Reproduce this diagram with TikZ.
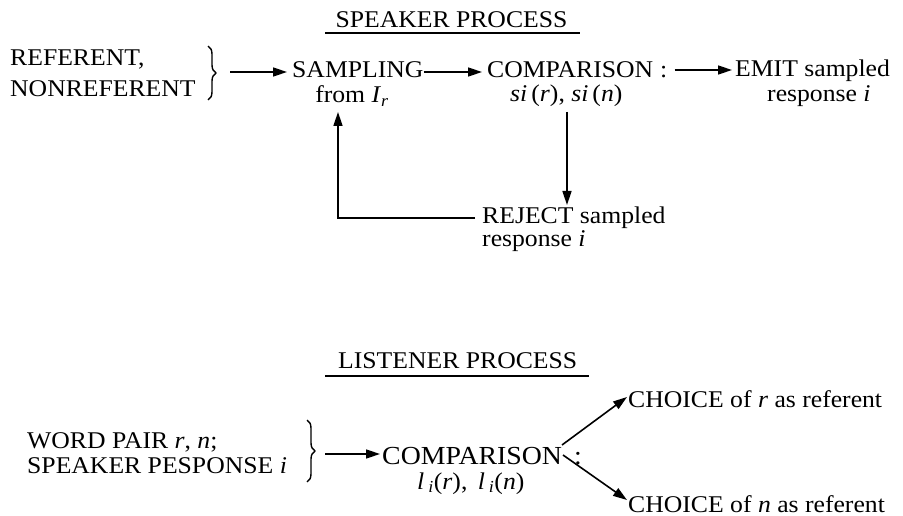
\documentclass[tikz,border=0pt]{standalone}
\usepackage{fontspec}
\setmainfont[FakeStretch=1.07]{Liberation Serif}
\usetikzlibrary{arrows.meta,decorations.pathreplacing}
\begin{document}
\begin{tikzpicture}[x=1pt,y=-1pt,
  lbl/.style={anchor=base west,inner sep=0pt,font=\fontsize{24}{28}\selectfont},
  arr/.style={line width=1.6pt,-{Triangle[length=14pt,width=9pt]}},
  ln/.style={line width=1.6pt},
  brc/.style={line width=1.4pt,decorate,decoration={brace,amplitude=8pt}}]
\useasboundingbox (0,0) rectangle (903,516);

% ---------- speaker process ----------
\node[lbl,anchor=base] (t1) at (451.5,28) {SPEAKER PROCESS};
\draw[ln] ([xshift=-10pt,yshift=-5pt]t1.base west) -- ([xshift=12pt,yshift=-5pt]t1.base east);

\node[lbl] (ref1) at (10,66) {REFERENT,};
\node[lbl] (ref2) at (10,97) {NONREFERENT};
\coordinate (b1a) at (208,46);
\coordinate (b1b) at (208,100);
\draw[brc] (b1a) -- (b1b);
\coordinate (b1tip) at (218,72);

\node[lbl] (samp) at (292,78) {SAMPLING};
\node[lbl,anchor=base] (from) at (352,103) {from \textit{I}\textsubscript{\textit{r}}};
\node[lbl] (comp) at (487,78) {COMPARISON\hspace{7pt}:};
\node[lbl] (si) at (510,102) {\textit{si\,}(\textit{r}),\ \textit{si\,}(\textit{n})};
\node[lbl] (emit) at (735,77) {EMIT sampled};
\node[lbl] (emit2) at (767,102) {response \textit{i}};
\node[lbl] (rej) at (482,223) {REJECT sampled};
\node[lbl] (rej2) at (482,247) {response \textit{i}};

\coordinate (cdown) at (567,112);
\coordinate (rejin) at (567,205);
\coordinate (loopin) at (338,112);

\draw[arr] ([xshift=12pt]b1tip) -- ([xshift=-5pt,yshift=6pt]samp.base west);
\draw[arr] ([yshift=6pt]samp.base east) -- ([xshift=-5pt,yshift=6pt]comp.base west);
\draw[arr] ([xshift=7pt,yshift=8pt]comp.base east) -- ([xshift=-3pt,yshift=7pt]emit.base west);
\draw[arr] (cdown) -- (rejin);
\draw[arr] ([xshift=-7pt,yshift=5pt]rej.base west) -| (loopin);

% ---------- listener process ----------
\node[lbl] (t2) at (338,368) {LISTENER PROCESS};
\draw[ln] ([xshift=-13pt,yshift=-8pt]t2.base west) -- ([xshift=12pt,yshift=-8pt]t2.base east);

\node[lbl] (w1) at (27,448) {WORD PAIR \textit{r}, \textit{n};};
\node[lbl] (w2) at (27,473) {SPEAKER PESPONSE \textit{i}};
\coordinate (b2a) at (307,420);
\coordinate (b2b) at (307,482);
\draw[brc] (b2a) -- (b2b);
\coordinate (b2tip) at (317,454);

\node[lbl,font=\fontsize{26}{30}\selectfont] (comp2) at (382,464) {COMPARISON\hspace{12pt}:};
\node[lbl] (li) at (417,489) {\textit{l}\,\textsubscript{\textit{i}}(\textit{r}),\, \textit{l}\,\textsubscript{\textit{i}}(\textit{n})};
\node[lbl] (ch1) at (628,407) {CHOICE of \textit{r} as referent};
\node[lbl] (ch2) at (628,512) {CHOICE of \textit{n} as referent};

\coordinate (up0) at (562,445);
\coordinate (dn0) at (563,455);

\draw[arr] ([xshift=8pt]b2tip) -- ([xshift=-2pt,yshift=10pt]comp2.base west);
\draw[arr] (up0) -- ([xshift=-1pt,yshift=10pt]ch1.base west);
\draw[arr] (dn0) -- ([xshift=-1pt,yshift=12pt]ch2.base west);
\end{tikzpicture}
\end{document}
